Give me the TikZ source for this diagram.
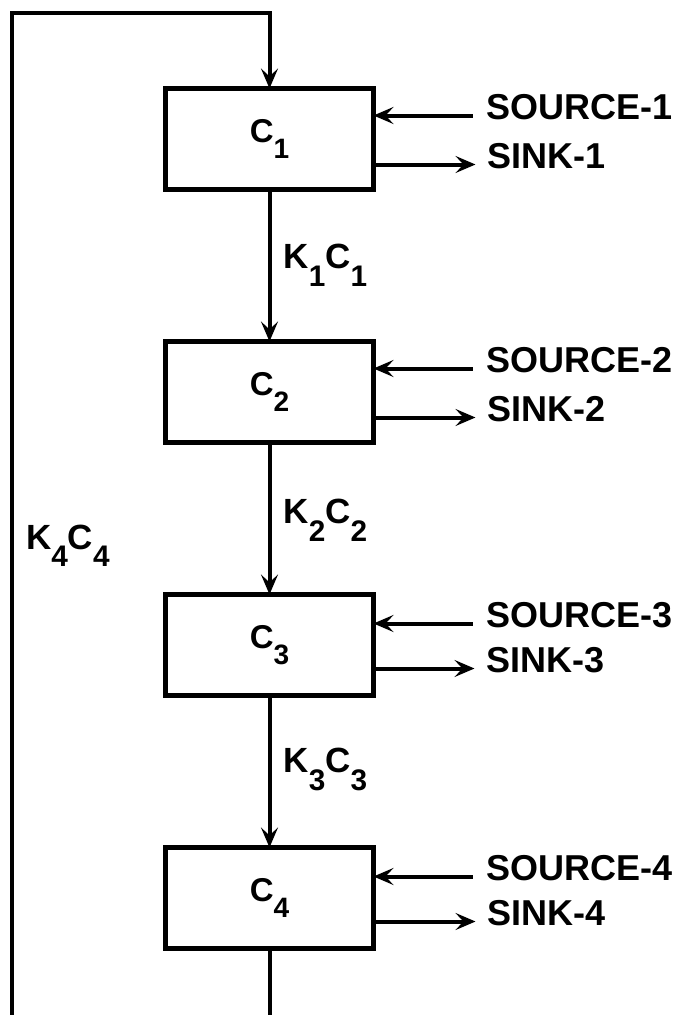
\documentclass[tikz,border=0pt]{standalone}
\usepackage{fontspec}
\setmainfont{Liberation Sans}
\usepackage{tikz}
\usetikzlibrary{arrows.meta, positioning}
\newcommand{\sbs}[1]{\raisebox{-0.5em}{\scalebox{0.85}{#1}}}

\begin{document}
\begin{tikzpicture}[
  x=1pt, y=1pt,
  node distance=152pt,
  tank/.style={draw, line width=4.5pt, minimum width=208pt, minimum height=101pt,
               outer sep=0pt, font=\bfseries\fontsize{33}{36}\selectfont},
  flow/.style={font=\bfseries\fontsize{35}{40}\selectfont, inner sep=0pt, anchor=base west},
  side/.style={font=\bfseries\fontsize{36}{42}\selectfont, inner sep=0pt, anchor=base west},
  arr/.style={-{Stealth[length=20pt, width=17pt, inset=8pt]}, line width=4pt}
]
  \useasboundingbox (0,0) rectangle (695,-1015);

  % Compartments
  \node[tank] (c1) at (269.5,-139) {C\sbs{1}};
  \node[tank, below=of c1] (c2) {C\sbs{2}};
  \node[tank, below=of c2] (c3) {C\sbs{3}};
  \node[tank, below=of c3] (c4) {C\sbs{4}};

  % Transfers between compartments
  \draw[arr] (c1.south) -- node[flow, xshift=12pt, yshift=-3pt] (k1) {K\sbs{1}C\sbs{1}} (c2.north);
  \draw[arr] (c2.south) -- node[flow, xshift=12pt, yshift=-5pt] (k2) {K\sbs{2}C\sbs{2}} (c3.north);
  \draw[arr] (c3.south) -- node[flow, xshift=12pt, yshift=-1pt] (k3) {K\sbs{3}C\sbs{3}} (c4.north);

  % Return loop
  \coordinate (topl) at (12,-13);
  \coordinate (botl) at (12,-1015);
  \coordinate (bot4) at (c4.south |- botl);
  \draw[line width=4pt] (c4.south) -- (bot4);
  \draw[arr] (botl) -- node[flow, pos=0.465, xshift=12pt] (k4) {K\sbs{4}C\sbs{4}} (topl) -| (c1.north);

  % Sources and sinks
  \coordinate (in1) at ([yshift=-27pt]c1.north east);
  \coordinate (out1) at ([yshift=-76pt]c1.north east);
  \node[side] (source1) at ([xshift=113pt, yshift=-4pt]in1) {SOURCE-1};
  \node[side] (sink1) at ([xshift=114pt, yshift=-4pt]out1) {SINK-1};
  \draw[arr] ([xshift=-14pt]source1.west |- in1) -- (in1);
  \draw[arr] (out1) -- ([xshift=-12pt]sink1.west |- out1);

  \coordinate (in2) at ([yshift=-27pt]c2.north east);
  \coordinate (out2) at ([yshift=-76pt]c2.north east);
  \node[side] (source2) at ([xshift=113pt, yshift=-4pt]in2) {SOURCE-2};
  \node[side] (sink2) at ([xshift=114pt, yshift=-4pt]out2) {SINK-2};
  \draw[arr] ([xshift=-14pt]source2.west |- in2) -- (in2);
  \draw[arr] (out2) -- ([xshift=-12pt]sink2.west |- out2);

  \coordinate (in3) at ([yshift=-29pt]c3.north east);
  \coordinate (out3) at ([yshift=-74pt]c3.north east);
  \node[side] (source3) at ([xshift=113pt, yshift=-4pt]in3) {SOURCE-3};
  \node[side] (sink3) at ([xshift=113pt, yshift=-4pt]out3) {SINK-3};
  \draw[arr] ([xshift=-14pt]source3.west |- in3) -- (in3);
  \draw[arr] (out3) -- ([xshift=-12pt]sink3.west |- out3);

  \coordinate (in4) at ([yshift=-29pt]c4.north east);
  \coordinate (out4) at ([yshift=-74pt]c4.north east);
  \node[side] (source4) at ([xshift=113pt, yshift=-4pt]in4) {SOURCE-4};
  \node[side] (sink4) at ([xshift=114pt, yshift=-4pt]out4) {SINK-4};
  \draw[arr] ([xshift=-14pt]source4.west |- in4) -- (in4);
  \draw[arr] (out4) -- ([xshift=-12pt]sink4.west |- out4);
\end{tikzpicture}
\end{document}
